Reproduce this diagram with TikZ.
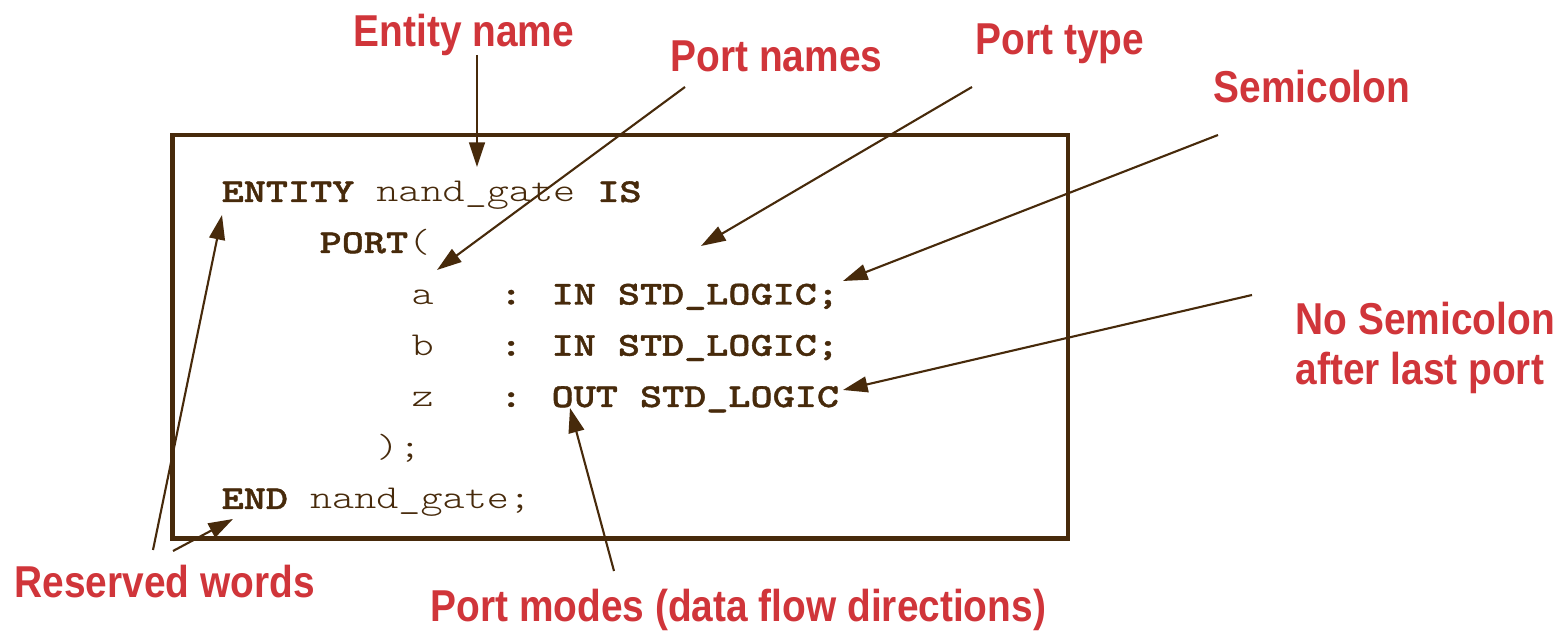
\documentclass[tikz,border=0pt]{standalone}
\usepackage{fontspec}
\usepackage{tikz}
\usetikzlibrary{arrows.meta}
\newfontfamily\calloutfont{Liberation Sans}[FakeStretch=0.87]
\newfontfamily\codefont{lmmonolt10-regular}[Extension=.otf,BoldFont=lmmonolt10-bold,BoldFeatures={FakeBold=1.2},FakeStretch=1.26]
\definecolor{vhdlred}{HTML}{D0353A}
\definecolor{vhdlbrown}{HTML}{472A0B}
\tikzset{
  code/.style={font=\codefont\fontsize{9.5}{11}\selectfont,text=vhdlbrown,anchor=base west,inner sep=0pt},
  callout/.style={font=\calloutfont\bfseries\fontsize{12.7}{14.5}\selectfont,text=vhdlred,anchor=base west,inner sep=0pt,align=left},
  frame/.style={draw=vhdlbrown,line width=1.3pt},
  pointer/.style={-{Triangle[length=7pt,width=4.5pt]},draw=vhdlbrown,line width=0.6pt},
}

\begin{document}
\begin{tikzpicture}[x=0.01cm,y=-0.01cm]
  \useasboundingbox (0,0) rectangle (1566,631);
  % entity declaration
  \draw[frame] (172.5,135) rectangle (1068,538.5);
  \node[code] (lnEntity) at (221,202) {\textbf{ENTITY} nand\_gate \textbf{IS}};
  \node[code] (lnPort) at (319,253) {\textbf{PORT}(};
  \node[code] (lnA) at (411,304.5) {a\ \ \ \textbf{: IN STD\_LOGIC;}};
  \node[code] (lnB) at (411,355.7) {b\ \ \ \textbf{: IN STD\_LOGIC;}};
  \node[code] (lnZ) at (411,407) {z\ \ \ \textbf{: OUT STD\_LOGIC}};
  \node[code] (lnClose) at (376,458) {);};
  \node[code] (lnEnd) at (221,509) {\textbf{END} nand\_gate;};
  % callouts
  \node[callout] (entName) at (353,47) {Entity name};
  \node[callout] (portNames) at (670,72) {Port names};
  \node[callout] (portType) at (975,55) {Port type};
  \node[callout] (semi) at (1213,103) {Semicolon};
  \node[callout] (noSemi) at (1295,385) {No Semicolon\\after last port};
  \node[callout] (reserved) at (14,598) {Reserved words};
  \node[callout] (portModes) at (430,622) {Port modes (data flow directions)};
  % pointer ends
  \coordinate (entTail) at (477,55);     \coordinate (entTip) at (477,167);
  \coordinate (namesTail) at (685,87);   \coordinate (namesTip) at (437,270);
  \coordinate (typeTail) at (972,87);    \coordinate (typeTip) at (701,246);
  \coordinate (semiTail) at (1218,135);  \coordinate (semiTip) at (843,281);
  \coordinate (noSemiTail) at (1252,295);\coordinate (noSemiTip) at (843,390);
  \coordinate (modesTail) at (614,571);  \coordinate (modesTip) at (570,408);
  \coordinate (resTailA) at (153,550);   \coordinate (resTipA) at (222,215);
  \coordinate (resTailB) at (173,551);   \coordinate (resTipB) at (233,519);
  \draw[pointer] (entTail) -- (entTip);
  \draw[pointer] (namesTail) -- (namesTip);
  \draw[pointer] (typeTail) -- (typeTip);
  \draw[pointer] (semiTail) -- (semiTip);
  \draw[pointer] (noSemiTail) -- (noSemiTip);
  \draw[pointer] (modesTail) -- (modesTip);
  \draw[pointer] (resTailA) -- (resTipA);
  \draw[pointer] (resTailB) -- (resTipB);
\end{tikzpicture}
\end{document}
